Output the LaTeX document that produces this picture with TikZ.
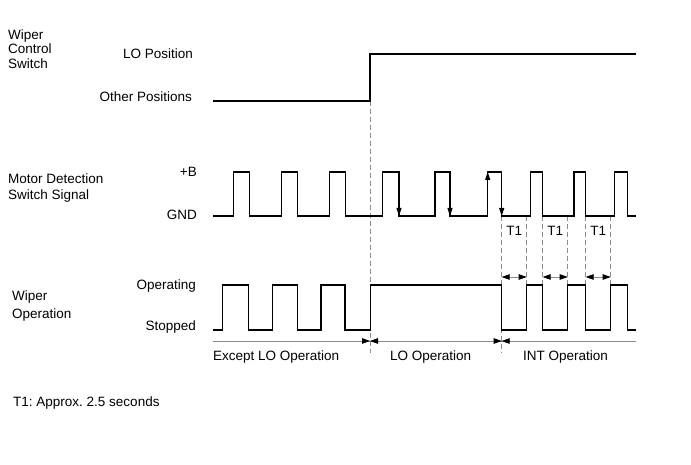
\documentclass[tikz,border=0pt]{standalone}
\usepackage{fontspec}
\setmainfont{Liberation Sans}
\usetikzlibrary{arrows.meta}
\frenchspacing
\begin{document}
\begin{tikzpicture}[x=1pt,y=-1pt,
  sig/.style={line width=1.3pt, line join=miter},
  guide/.style={draw=black!45, dash pattern=on 5pt off 3pt, line width=0.8pt},
  dimline/.style={draw=black!45, line width=0.8pt},
  vtip/.style={-{Triangle[length=8pt,width=5pt]}, line width=1pt},
  dtip/.style={line width=0.8pt, draw=black!45, arrows={-{Triangle[length=8pt,width=5.5pt,color=black]}}},
  ttip/.style={line width=0.8pt, draw=black!45, arrows={{Triangle[length=8pt,width=5.5pt,color=black]}-{Triangle[length=8pt,width=5.5pt,color=black]}}},
  lbl/.style={font=\fontsize{13.5}{16}\selectfont, inner sep=0pt},
]
\useasboundingbox[fill=white] (0,0) rectangle (691,465);

% left labels
\node[lbl, anchor=base west] (wcs1) at (8,39.5) {Wiper};
\node[lbl, anchor=base west] (wcs2) at (8,54) {Control};
\node[lbl, anchor=base west] (wcs3) at (8,68.5) {Switch};
\node[lbl, anchor=base east] (lopos) at (193,59) {LO Position};
\node[lbl, anchor=base east] (othpos) at (192,101.5) {Other Positions};

\node[lbl, anchor=base west] (mds1) at (8,184) {Motor Detection};
\node[lbl, anchor=base west] (mds2) at (8,200) {Switch Signal};
\node[lbl, anchor=base east] (plusb) at (197,177) {+B};
\node[lbl, anchor=base east] (gnd) at (197,220) {GND};

\node[lbl, anchor=base west] (wo1) at (12,301) {Wiper};
\node[lbl, anchor=base west] (wo2) at (12,318) {Operation};
\node[lbl, anchor=base east] (oper) at (196,289) {Operating};
\node[lbl, anchor=base east] (stop) at (196,330.5) {Stopped};

% guide lines
\draw[guide] (370,101) -- (370,353);
\draw[guide] (501.7,216) -- (501.7,353);
\draw[guide] (526.7,216) -- (526.7,285);
\draw[guide] (542.7,216) -- (542.7,285);
\draw[guide] (567.7,216) -- (567.7,285);
\draw[guide] (585.7,216) -- (585.7,285);
\draw[guide] (610.7,216) -- (610.7,285);

% wiper control switch
\draw[sig] (213,101) -- (370,101) -- (370,54) -- (636,54);

% motor detection switch signal
\draw[sig] (213,216)
  -- (233.3,216) -- (233.3,172) -- (249.3,172) -- (249.3,216)
  -- (281.3,216) -- (281.3,172) -- (297.7,172) -- (297.7,216)
  -- (329.3,216) -- (329.3,172) -- (345.3,172) -- (345.3,216)
  -- (382.7,216) -- (382.7,172) -- (399,172) -- (399,216)
  -- (435,216) -- (435,172) -- (450,172) -- (450,216)
  -- (487.7,216) -- (487.7,172) -- (501.7,172) -- (501.7,216)
  -- (530.7,216) -- (530.7,172) -- (542.7,172) -- (542.7,216)
  -- (574,216) -- (574,172) -- (585.7,172) -- (585.7,216)
  -- (614.3,216) -- (614.3,172) -- (627.3,172) -- (627.3,216)
  -- (636,216);
\draw[vtip] (399,196) -- (399,216);
\draw[vtip] (450,196) -- (450,216);
\draw[vtip] (501.7,196) -- (501.7,216);
\draw[vtip] (487.7,192) -- (487.7,172);

% wiper operation
\draw[sig] (213,330)
  -- (222.7,330) -- (222.7,285) -- (248.3,285) -- (248.3,330)
  -- (272.7,330) -- (272.7,285) -- (297.7,285) -- (297.7,330)
  -- (321,330) -- (321,285) -- (345,285) -- (345,330)
  -- (370.3,330) -- (370.3,285) -- (501.7,285) -- (501.7,330)
  -- (526.7,330) -- (526.7,285) -- (542.7,285) -- (542.7,330)
  -- (567.7,330) -- (567.7,285) -- (585.7,285) -- (585.7,330)
  -- (610.7,330) -- (610.7,285) -- (627.3,285) -- (627.3,330)
  -- (636,330);

% T1 intervals
\draw[ttip] (501.7,277) -- (526.7,277);
\draw[ttip] (542.7,277) -- (567.7,277);
\draw[ttip] (585.7,277) -- (610.7,277);
\node[lbl, anchor=base] (t1a) at (514.2,235.5) {T1};
\node[lbl, anchor=base] (t1b) at (555.2,235.5) {T1};
\node[lbl, anchor=base] (t1c) at (598.2,235.5) {T1};

% operation ranges
\draw[dimline] (213,341) -- (636,341);
\draw[dtip] (354,341) -- (370,341);
\draw[dtip] (386,341) -- (370,341);
\draw[dtip] (485.7,341) -- (501.7,341);
\draw[dtip] (517.7,341) -- (501.7,341);
\node[lbl, anchor=base west] (exlo) at (213,360.7) {Except LO Operation};
\node[lbl, anchor=base west] (loop) at (390,360.7) {LO Operation};
\node[lbl, anchor=base west] (intop) at (523,360.7) {INT Operation};

% footnote
\node[lbl, anchor=base west] (note) at (13,406) {T1: Approx. 2.5 seconds};
\end{tikzpicture}
\end{document}
